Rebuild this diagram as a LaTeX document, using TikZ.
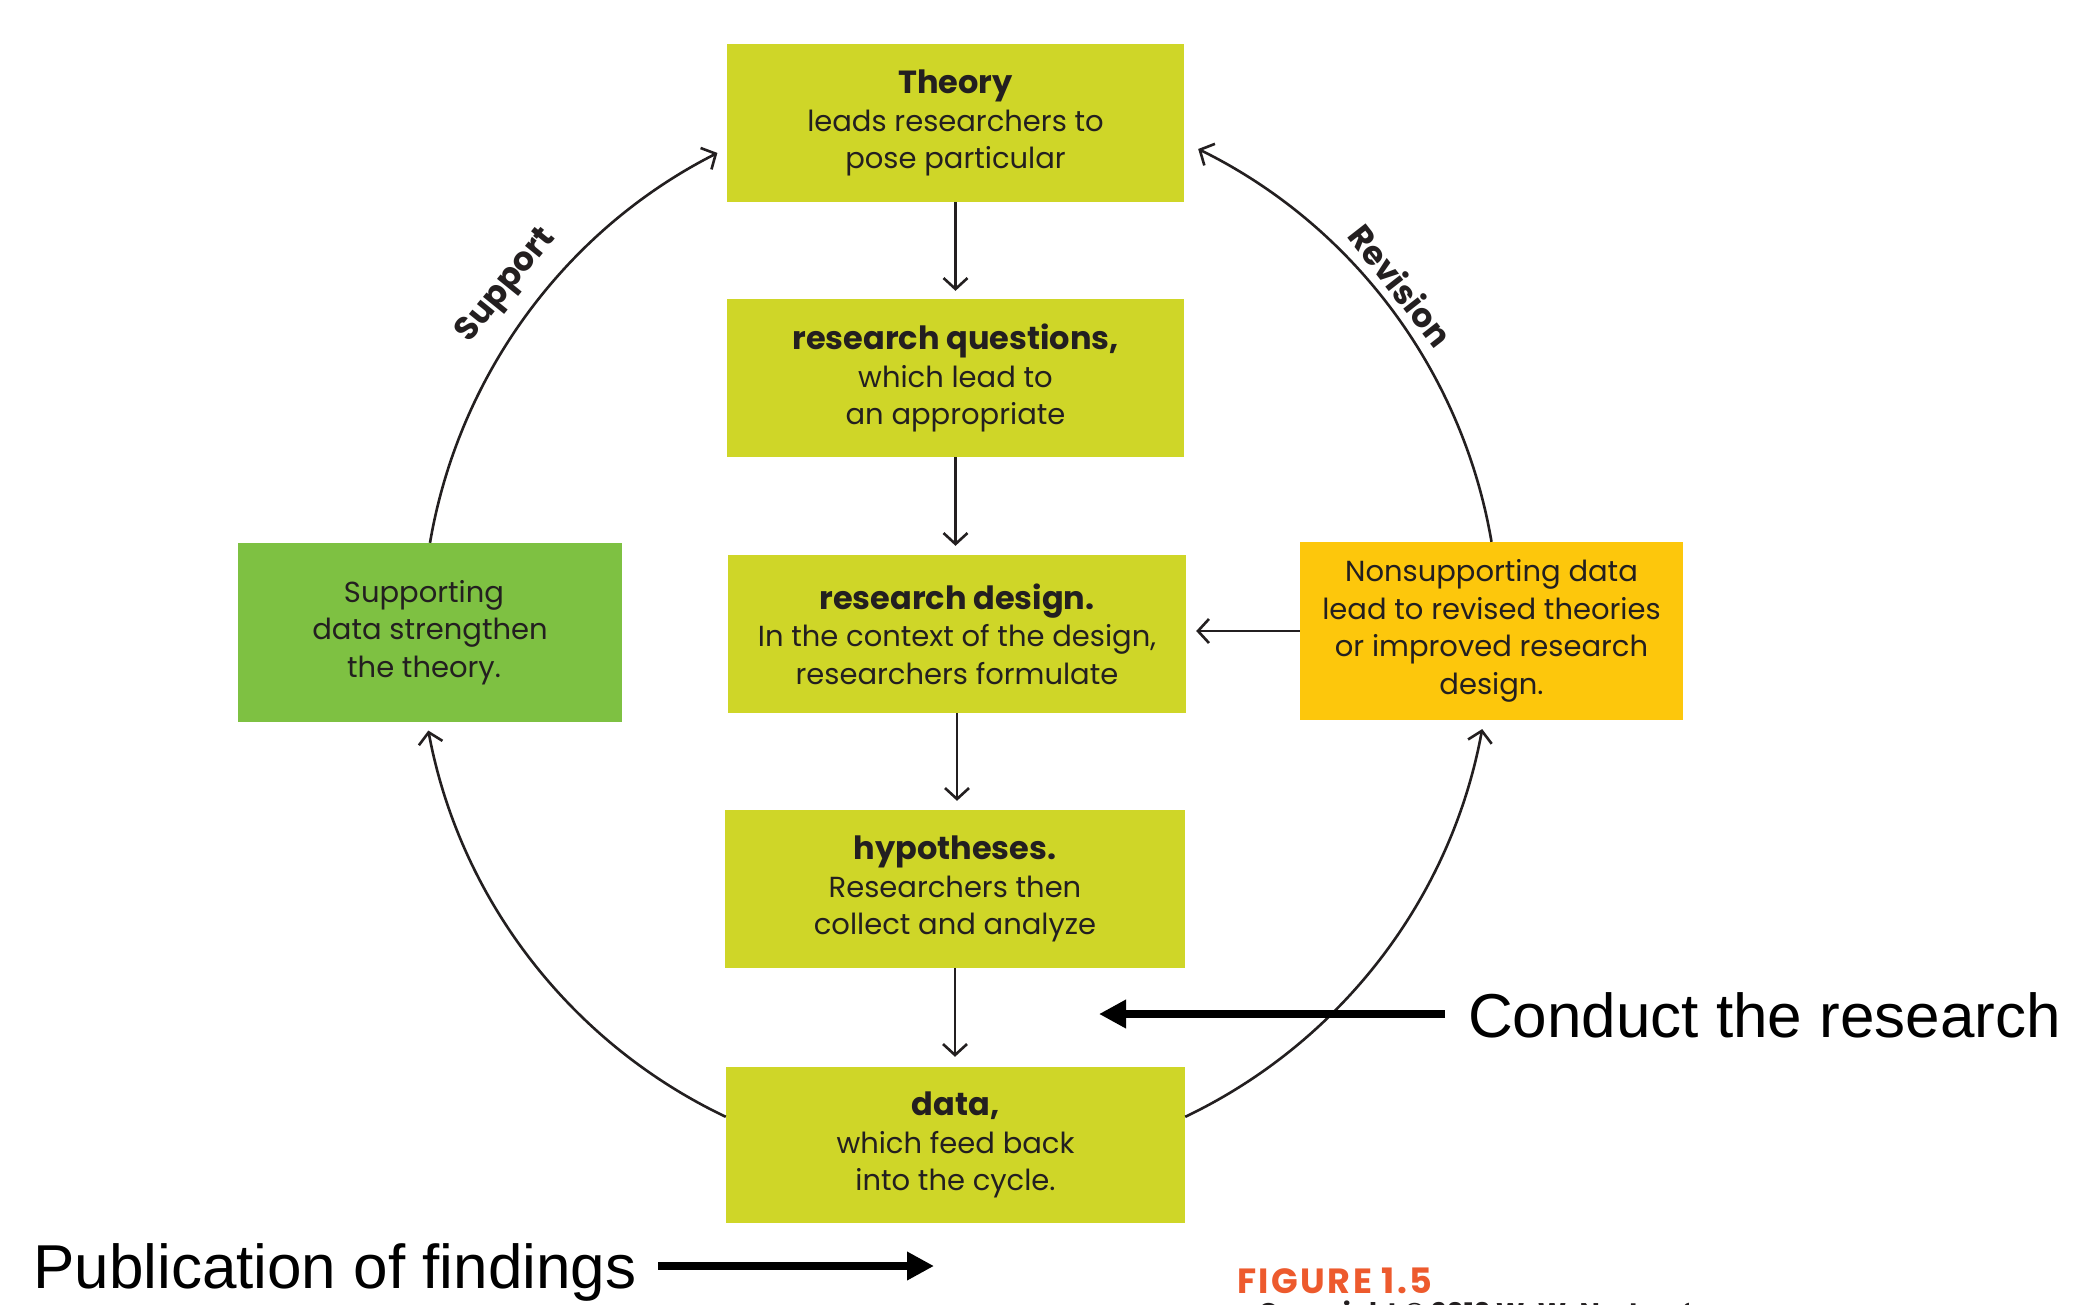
\documentclass[tikz,border=0pt]{standalone}
\usepackage{fontspec}
\setmainfont{Poppins}
\newfontfamily\arialf{Liberation Sans}
\usetikzlibrary{arrows.meta,calc}
\definecolor{lime}{RGB}{207,214,40}
\definecolor{leaf}{RGB}{126,193,66}
\definecolor{gold}{RGB}{253,199,12}
\definecolor{ink}{RGB}{35,31,32}
\definecolor{figred}{RGB}{237,90,45}
\newcommand\bxfont{\fontsize{29}{37.5}\selectfont}
\newcommand\ttl[1]{{\fontsize{32}{37.5}\selectfont\bfseries #1}}
\begin{document}
\begin{tikzpicture}[x=1pt,y=-1pt,
  box/.style={fill=#1, align=center, text=ink, font=\bxfont, inner sep=0pt},
  arr/.style={draw=ink, line width=2.6pt, -{Straight Barb[length=11pt,width=24pt]}},
  bigarr/.style={draw=black, line width=8pt, -{Triangle[length=27pt,width=27pt]}},
  lab/.style={text=ink, font=\fontsize{33}{38}\selectfont\bfseries, inner sep=0pt},
  big/.style={text=black, font=\arialf\fontsize{62}{70}\selectfont, inner sep=0pt}
]
\useasboundingbox (0,0) rectangle (2083,1304);
\fill[white] (0,0) rectangle (2083,1304);

\node[box=lime, minimum width=457pt, minimum height=158pt] (theory) at (955.5,123)
  {\ttl{Theory}\\leads researchers to\\pose particular};
\node[box=lime, minimum width=457pt, minimum height=158pt] (rq) at (955.5,378)
  {\ttl{research questions,}\\which lead to\\an appropriate};
\node[box=lime, minimum width=458pt, minimum height=158pt] (design) at (957,634)
  {\ttl{research design.}\\In the context of the design,\\researchers formulate};
\node[box=lime, minimum width=460pt, minimum height=158pt] (hyp) at (955,889)
  {\ttl{hypotheses.}\\Researchers then\\collect and analyze};
\node[box=lime, minimum width=459pt, minimum height=156pt] (data) at (955.5,1145)
  {\ttl{data,}\\which feed back\\into the cycle.};
\node[box=leaf, minimum width=384pt, minimum height=179pt] (green) at (430,632.5)
  {Supporting\hspace*{12pt}\\data strengthen\hspace*{12pt}\\the theory.\hspace*{12pt}};
\node[box=gold, minimum width=383pt, minimum height=178pt] (orange) at (1491.5,631)
  {Nonsupporting data\\lead to revised theories\\or improved research\\design.};

\draw[arr, shorten >=8pt] (theory.south) -- (rq.north);
\draw[arr, shorten >=9pt] (rq.south) -- (rq.south |- design.north);
\draw[arr, shorten >=9pt] (design.south) -- (design.south |- hyp.north);
\draw[arr, shorten >=10pt] (hyp.south) -- (hyp.south |- data.north);
\draw[arr, shorten >=10pt] (orange.west) -- (orange.west -| design.east);

\draw[arr] (green.north) arc[start angle=-170.3, end angle=-116.9, radius=539];
\draw[arr] (data.173) arc[start angle=115.4, end angle=169.4, radius=537];
\draw[arr] (data.7) arc[start angle=64.5, end angle=10.4, radius=537];
\draw[arr] (orange.north) arc[start angle=-9.7, end angle=-63.8, radius=539];

\node[lab, rotate=51] (sup) at (507,286) {Support};
\node[lab, rotate=-52] (rev) at (1401,285) {Revision};

\node[big, anchor=base west] (conduct) at (1468,1037) {Conduct the research};
\coordinate (ctip) at (1099,1014);
\draw[bigarr] (1445,1014) -- (ctip);

\node[big, anchor=base west] (pub) at (33,1288) {Publication of findings};
\coordinate (ptail) at (658,1266);
\coordinate (ptip) at (934,1266);
\draw[bigarr] (ptail) -- (ptip);

\node[anchor=base west, inner sep=0pt, text=figred, font=\fontsize{35}{40}\selectfont\bfseries\addfontfeature{LetterSpace=7}] (fig) at (1237,1293) {FIGURE 1.5};
\begin{scope}
\clip (1200,1296) rectangle (1688,1304);
\node[anchor=base west, inner sep=0pt, text=ink, font=\fontsize{27}{30}\selectfont\bfseries] (copy) at (1258,1322) {Copyright © 2013 W. W. Norton \& Company};
\end{scope}
\end{tikzpicture}
\end{document}
